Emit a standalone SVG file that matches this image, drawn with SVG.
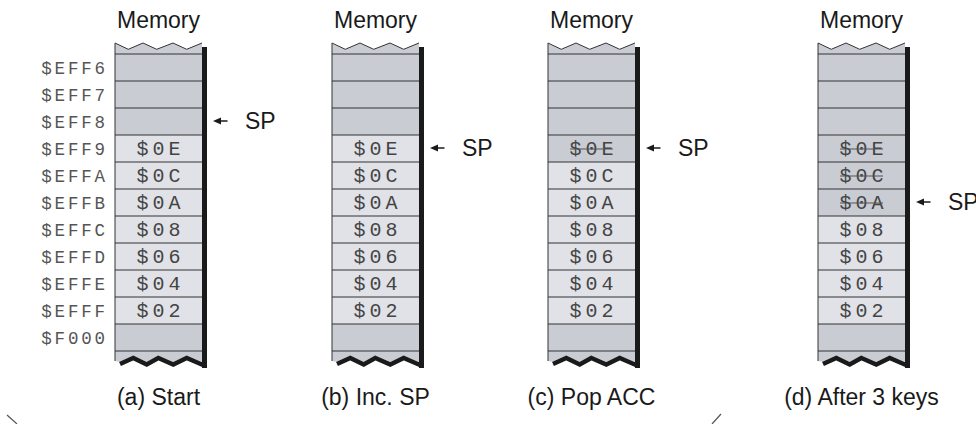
<svg xmlns="http://www.w3.org/2000/svg" xmlns:xlink="http://www.w3.org/1999/xlink" width="976" height="424" viewBox="0 0 976 424">
<style>
.bg{fill:#c9ccd3}
.d{fill:#e0e2e7}
.ln{stroke:#333;stroke-width:1;fill:none}
.sans{font-family:"Liberation Sans",Arial,sans-serif;font-size:23px;fill:#1a1a1a}
.mid{text-anchor:middle}
.mono{font-family:"Liberation Mono","Courier New",monospace;font-size:20px;letter-spacing:4px;fill:#444}
.addr{font-family:"Liberation Mono","Courier New",monospace;font-size:17.5px;letter-spacing:2.8px;fill:#555}
.strike{stroke:#555;stroke-width:1}
.arr{stroke:#1a1a1a;stroke-width:1.5}
.ah{fill:#1a1a1a}
</style>
<defs>
<polygon id="fill" class="bg" points="0,43 13.3,49.3 28,43 41.7,49.3 58,43 71.7,49.3 87,43 87,362 71.7,356 58.3,362 43.3,356 31.7,362 18.3,356 5,362 0,361"/>
<g id="lines" class="ln">
<path d="M0,43V361M0,54H87M0,81H87M0,108H87M0,135H87M0,162H87M0,189H87M0,216H87M0,243H87M0,270H87M0,297H87M0,324H87M0,351H87"/>
</g>
<g id="edge">
<polyline class="ln" points="0,43 13.3,49.3 28,43 41.7,49.3 58,43 71.7,49.3 87,43"/>
<polyline points="5,364 18.3,358 31.7,364.5 43.3,358 58.3,364.5 71.7,358 88,365" fill="none" stroke="#1a1a1a" stroke-width="4.5"/>
<rect x="87" y="47" width="5" height="321" fill="#1a1a1a"/>
</g>
<g id="sp">
<polygon class="ah" points="98,0 106,-3.5 106,3.5"/>
<line class="arr" x1="105" y1="0" x2="112.5" y2="0"/>
<text class="sans" x="130" y="-2" dy="10">SP</text>
</g>
</defs>

<g id="addresses">
<text class="addr" x="41.3" y="74">$EFF6</text>
<text class="addr" x="41.3" y="101">$EFF7</text>
<text class="addr" x="41.3" y="128">$EFF8</text>
<text class="addr" x="41.3" y="155">$EFF9</text>
<text class="addr" x="41.3" y="182">$EFFA</text>
<text class="addr" x="41.3" y="209">$EFFB</text>
<text class="addr" x="41.3" y="236">$EFFC</text>
<text class="addr" x="41.3" y="263">$EFFD</text>
<text class="addr" x="41.3" y="290">$EFFE</text>
<text class="addr" x="41.3" y="317">$EFFF</text>
<text class="addr" x="41.3" y="344">$F000</text>
</g>

<g id="col-a" transform="translate(115,0)">
<use xlink:href="#fill"/>
<rect class="d" x="0" y="135" width="87" height="189"/>
<use xlink:href="#lines"/>
<use xlink:href="#edge"/>
<text class="sans mid" x="43.5" y="28">Memory</text>
<text class="mono" x="21.5" y="154.5">$0E</text>
<text class="mono" x="21.5" y="181.5">$0C</text>
<text class="mono" x="21.5" y="208.5">$0A</text>
<text class="mono" x="21.5" y="235.5">$08</text>
<text class="mono" x="21.5" y="262.5">$06</text>
<text class="mono" x="21.5" y="289.5">$04</text>
<text class="mono" x="21.5" y="316.5">$02</text>
<use xlink:href="#sp" y="121"/>
<text class="sans mid" x="43.5" y="405">(a) Start</text>
</g>

<g id="col-b" transform="translate(332,0)">
<use xlink:href="#fill"/>
<rect class="d" x="0" y="135" width="87" height="189"/>
<use xlink:href="#lines"/>
<use xlink:href="#edge"/>
<text class="sans mid" x="43.5" y="28">Memory</text>
<text class="mono" x="21.5" y="154.5">$0E</text>
<text class="mono" x="21.5" y="181.5">$0C</text>
<text class="mono" x="21.5" y="208.5">$0A</text>
<text class="mono" x="21.5" y="235.5">$08</text>
<text class="mono" x="21.5" y="262.5">$06</text>
<text class="mono" x="21.5" y="289.5">$04</text>
<text class="mono" x="21.5" y="316.5">$02</text>
<use xlink:href="#sp" y="148"/>
<text class="sans mid" x="43.5" y="405">(b) Inc. SP</text>
</g>

<g id="col-c" transform="translate(548,0)">
<use xlink:href="#fill"/>
<rect class="d" x="0" y="162" width="87" height="162"/>
<use xlink:href="#lines"/>
<use xlink:href="#edge"/>
<text class="sans mid" x="43.5" y="28">Memory</text>
<text class="mono" x="21.5" y="154.5">$0E</text>
<line class="strike" x1="22" y1="149" x2="65" y2="149"/>
<text class="mono" x="21.5" y="181.5">$0C</text>
<text class="mono" x="21.5" y="208.5">$0A</text>
<text class="mono" x="21.5" y="235.5">$08</text>
<text class="mono" x="21.5" y="262.5">$06</text>
<text class="mono" x="21.5" y="289.5">$04</text>
<text class="mono" x="21.5" y="316.5">$02</text>
<use xlink:href="#sp" y="148"/>
<text class="sans mid" x="43.5" y="405">(c) Pop ACC</text>
</g>

<g id="col-d" transform="translate(818,0)">
<use xlink:href="#fill"/>
<rect class="d" x="0" y="216" width="87" height="108"/>
<use xlink:href="#lines"/>
<use xlink:href="#edge"/>
<text class="sans mid" x="43.5" y="28">Memory</text>
<text class="mono" x="21.5" y="154.5">$0E</text>
<line class="strike" x1="22" y1="149" x2="65" y2="149"/>
<text class="mono" x="21.5" y="181.5">$0C</text>
<line class="strike" x1="22" y1="176" x2="65" y2="176"/>
<text class="mono" x="21.5" y="208.5">$0A</text>
<line class="strike" x1="22" y1="203" x2="65" y2="203"/>
<text class="mono" x="21.5" y="235.5">$08</text>
<text class="mono" x="21.5" y="262.5">$06</text>
<text class="mono" x="21.5" y="289.5">$04</text>
<text class="mono" x="21.5" y="316.5">$02</text>
<use xlink:href="#sp" y="202"/>
<text class="sans mid" x="43.5" y="405">(d) After 3 keys</text>
</g>

<g id="connectors">
<line x1="7" y1="415" x2="17" y2="424" stroke="#555" stroke-width="1.2"/>
<line x1="712" y1="424" x2="721" y2="414" stroke="#555" stroke-width="1.2"/>
</g>
</svg>
